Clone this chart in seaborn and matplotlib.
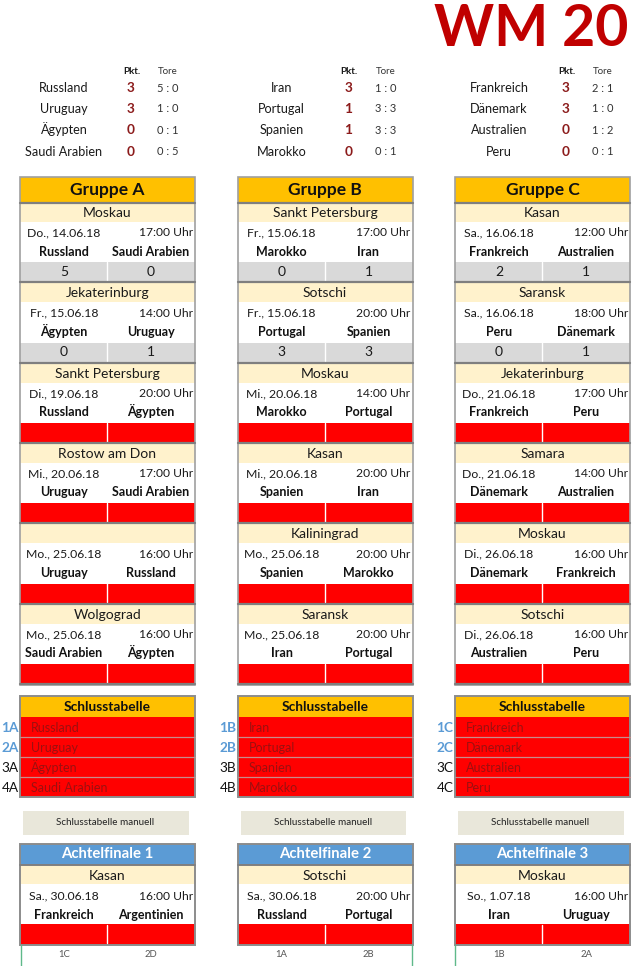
import matplotlib

matplotlib.use("Agg")
import matplotlib.pyplot as plt
import numpy as np
import seaborn as sns
from matplotlib.colors import ListedColormap
from matplotlib.patches import Rectangle

W, H = 632, 966

group_names = ["Gruppe A", "Gruppe B", "Gruppe C"]
group_suffix = ["A", "B", "C"]
standing_teams = [
    ["Russland", "Uruguay", "Ägypten", "Saudi Arabien"],
    ["Iran", "Portugal", "Spanien", "Marokko"],
    ["Frankreich", "Dänemark", "Australien", "Peru"],
]
standing_points = [[3, 3, 0, 0], [3, 1, 1, 0], [3, 3, 0, 0]]
standing_goals = [
    ["5 : 0", "1 : 0", "0 : 1", "0 : 5"],
    ["1 : 0", "3 : 3", "3 : 3", "0 : 1"],
    ["2 : 1", "1 : 0", "1 : 2", "0 : 1"],
]

cities = [
    ["Moskau", "Jekaterinburg", "Sankt Petersburg", "Rostow am Don", "", "Wolgograd"],
    ["Sankt Petersburg", "Sotschi", "Moskau", "Kasan", "Kaliningrad", "Saransk"],
    ["Kasan", "Saransk", "Jekaterinburg", "Samara", "Moskau", "Sotschi"],
]
dates = [
    ["Do., 14.06.18", "Fr., 15.06.18", "Di., 19.06.18", "Mi., 20.06.18", "Mo., 25.06.18", "Mo., 25.06.18"],
    ["Fr., 15.06.18", "Fr., 15.06.18", "Mi., 20.06.18", "Mi., 20.06.18", "Mo., 25.06.18", "Mo., 25.06.18"],
    ["Sa., 16.06.18", "Sa., 16.06.18", "Do., 21.06.18", "Do., 21.06.18", "Di., 26.06.18", "Di., 26.06.18"],
]
times = [
    ["17:00 Uhr", "14:00 Uhr", "20:00 Uhr", "17:00 Uhr", "16:00 Uhr", "16:00 Uhr"],
    ["17:00 Uhr", "20:00 Uhr", "14:00 Uhr", "20:00 Uhr", "20:00 Uhr", "20:00 Uhr"],
    ["12:00 Uhr", "18:00 Uhr", "17:00 Uhr", "14:00 Uhr", "16:00 Uhr", "16:00 Uhr"],
]
home_teams = [
    ["Russland", "Ägypten", "Russland", "Uruguay", "Uruguay", "Saudi Arabien"],
    ["Marokko", "Portugal", "Marokko", "Spanien", "Spanien", "Iran"],
    ["Frankreich", "Peru", "Frankreich", "Dänemark", "Dänemark", "Australien"],
]
away_teams = [
    ["Saudi Arabien", "Uruguay", "Ägypten", "Saudi Arabien", "Russland", "Ägypten"],
    ["Iran", "Spanien", "Portugal", "Iran", "Marokko", "Portugal"],
    ["Australien", "Dänemark", "Peru", "Australien", "Frankreich", "Peru"],
]
home_goals = [[5, 0, None, None, None, None], [0, 3, None, None, None, None], [2, 0, None, None, None, None]]
away_goals = [[0, 1, None, None, None, None], [1, 3, None, None, None, None], [1, 1, None, None, None, None]]

ko_names = ["Achtelfinale 1", "Achtelfinale 2", "Achtelfinale 3"]
ko_cities = ["Kasan", "Sotschi", "Moskau"]
ko_dates = ["Sa., 30.06.18", "Sa., 30.06.18", "So., 1.07.18"]
ko_times = ["16:00 Uhr", "20:00 Uhr", "16:00 Uhr"]
ko_home = ["Frankreich", "Russland", "Iran"]
ko_away = ["Argentinien", "Portugal", "Uruguay"]
ko_home_seed = ["1C", "1A", "1B"]
ko_away_seed = ["2D", "2B", "2A"]

col_left = [20, 237.5, 455]
col_width = 175
split = 87
green_lines = [20.5, 412, 454.5]
block_rows = [19, 40, 21]

GOLD = "#ffc000"
CREAM = "#fff2cc"
GREY = "#d9d9d9"
RED = "#ff0000"
BLUE = "#5b9bd5"
cell_cmap = ListedColormap([CREAM, "#ffffff", GREY, RED])

sns.set_theme(style="white")
plt.rcParams["font.family"] = ["Lato", "DejaVu Sans"]

fig = plt.figure(figsize=(W / 100, H / 100), dpi=100)


def heat(x0, y0, x1, y1, codes):
    ax = fig.add_axes([x0 / W, 1 - y1 / H, (x1 - x0) / W, (y1 - y0) / H])
    sns.heatmap(np.array(codes), cmap=cell_cmap, vmin=-0.5, vmax=3.5, cbar=False,
                xticklabels=False, yticklabels=False, ax=ax)
    ax.axis("off")


def match_codes(scored):
    # one heatmap row per pixel: city band, white part, result
    return np.repeat([0, 1, 2 if scored else 3], block_rows).reshape(-1, 1)


for g, x0 in enumerate(col_left):
    codes = np.vstack([match_codes(home_goals[g][m] is not None) for m in range(6)])
    heat(x0, 203, x0 + col_width, 685, codes)
    heat(x0, 864.5, x0 + col_width, 944.5, match_codes(False))

# overlay in pixel coordinates for text and rules
ov = fig.add_axes([0, 0, 1, 1], zorder=10)
ov.set_xlim(0, W)
ov.set_ylim(H, 0)
ov.axis("off")
ov.patch.set_alpha(0)


def label(x, y, s, size=8.8, weight="normal", color="#1a1a1a", ha="center"):
    # y is the middle of the capitals, half a cap height above the baseline
    ov.text(x, y + 0.5 * size, s, fontsize=size, fontweight=weight, color=color, ha=ha, va="baseline")


def box(x0, y0, x1, y1, color):
    ov.add_patch(Rectangle((x0, y0), x1 - x0, y1 - y0, facecolor=color, edgecolor="none"))


def match_texts(x0, y, date, time, home, away):
    label(x0 + 44, y, date)
    label(x0 + 173, y, time, size=8.7, ha="right")
    label(x0 + 44, y + 19, home, weight="bold", size=9, color="#111111")
    label(x0 + 131, y + 19, away, weight="bold", size=9, color="#111111")


ov.text(434, 46, "WM 20", fontsize=41.2, fontweight="bold", color="#c00000", ha="left", va="baseline")

row_y = [87.5, 108.5, 129.5, 151]
for g, x0 in enumerate(col_left):
    # standings above the group tables
    label(x0 + 111.5, 70.5, "Pkt.", size=7, weight="bold")
    label(x0 + 148, 70.5, "Tore", size=7, color="#333333")
    for r, y in enumerate(row_y):
        label(x0 + 44, y, standing_teams[g][r], size=9.1)
        label(x0 + 111, y, str(standing_points[g][r]), size=9.8, weight="bold", color="#8b1a1a")
        label(x0 + 148, y, standing_goals[g][r], size=8, color="#333333")

    x1 = x0 + col_width
    mid = x0 + split

    # group header
    box(x0, 176.5, x1, 202.5, GOLD)
    label((x0 + x1) / 2, 189, group_names[g], size=12.5, weight="bold", color="#111111")
    ov.plot([x0, x1], [202.5, 202.5], color="#7f7f7f", lw=1.6)

    # six match blocks
    for m in range(6):
        top = 203 + m * 80.33
        label((x0 + x1) / 2, top + 9, cities[g][m], size=10)
        match_texts(x0, top + 29, dates[g][m], times[g][m], home_teams[g][m], away_teams[g][m])
        ov.plot([mid, mid], [top + 59, top + 78], color="#ffffff", lw=1)
        if home_goals[g][m] is not None:
            label(x0 + 44, top + 68, str(home_goals[g][m]), size=10)
            label(x0 + 131, top + 68, str(away_goals[g][m]), size=10)
        ov.plot([x0, x1], [top + 79.4, top + 79.4], color="#7f7f7f", lw=1.6)
    ov.add_patch(Rectangle((x0, 176.5), col_width, 508.5, fill=False, edgecolor="#a0a0a0", lw=1.2))

    # final table
    box(x0, 696, x1, 716.5, GOLD)
    label((x0 + x1) / 2, 706, "Schlusstabelle", size=9.9, weight="bold", color="#111111")
    box(x0, 716.5, x1, 797, RED)
    for r in range(4):
        y = 727 + r * 20.1
        color = BLUE if r < 2 else "#111111"
        label(x0 - 1.5, y, f"{r + 1}{group_suffix[g]}", size=9.8, ha="right", color=color, weight="bold" if r < 2 else "normal")
        label(x0 + 11, y, standing_teams[g][r], size=9, ha="left", color="#9c1010")
        if r > 0:
            ov.plot([x0, x1], [716.5 + r * 20.1] * 2, color="#c88a8a", lw=0.9)
    ov.add_patch(Rectangle((x0, 696), col_width, 101, fill=False, edgecolor="#8c8c8c", lw=1.4))

    # button
    box(x0 + 3, 811, x0 + 168.5, 835, "#e9e7da")
    label(x0 + 85.5, 821.5, "Schlusstabelle manuell", size=7.1, color="#222222")

    # round of sixteen
    box(x0, 844, x1, 864.5, BLUE)
    label((x0 + x1) / 2, 853, ko_names[g], size=10.7, weight="bold", color="#ffffff")
    ov.plot([x0, x1], [864.5, 864.5], color="#7f7f7f", lw=1.4)
    label((x0 + x1) / 2, 874.5, ko_cities[g], size=10)
    match_texts(x0, 895.5, ko_dates[g], ko_times[g], ko_home[g], ko_away[g])
    ov.plot([mid, mid], [924.5, 943], color="#ffffff", lw=1)
    ov.add_patch(Rectangle((x0, 844), col_width, 100.5, fill=False, edgecolor="#8c8c8c", lw=1.4))
    label(x0 + 44, 954, ko_home_seed[g], size=6.8, color="#555555")
    label(x0 + 131, 954, ko_away_seed[g], size=6.8, color="#555555")

for x in green_lines:
    ov.plot([x, x], [945, H], color="#5fb98a", lw=1.0)

fig.savefig("out.png", dpi=100, facecolor="white")
